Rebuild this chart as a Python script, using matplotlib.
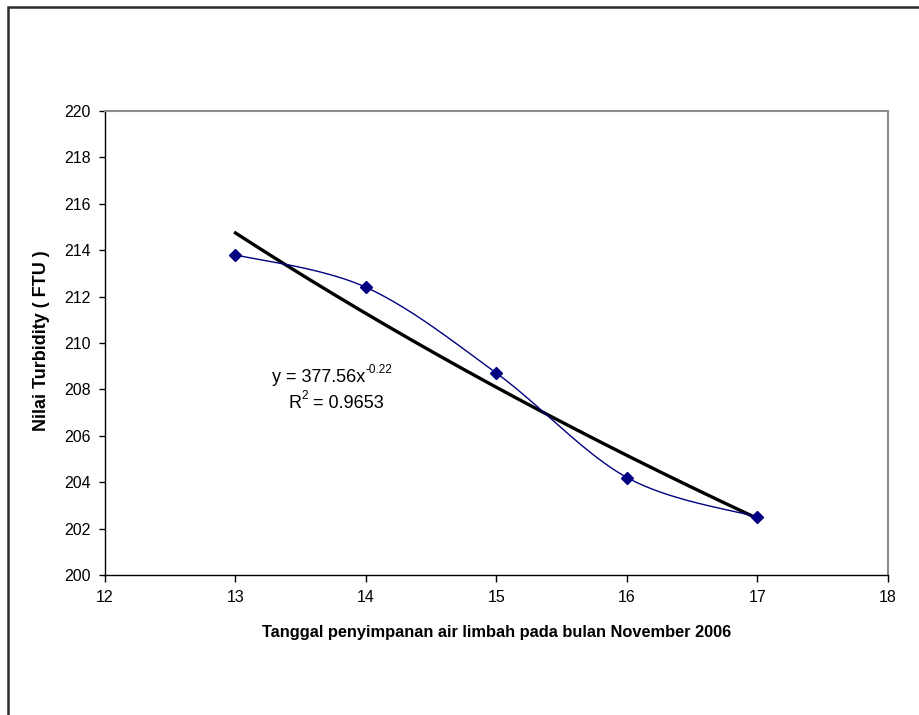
import numpy as np
import matplotlib
matplotlib.use("Agg")
import matplotlib.pyplot as plt
from matplotlib.patches import Rectangle

plt.rcParams['font.family'] = ['Liberation Sans', 'DejaVu Sans']

# data
days = [13, 14, 15, 16, 17]
turbidity = [213.8, 212.4, 208.7, 204.2, 202.5]
trend_a = 377.56
trend_b = -0.22
x_ticks = [12, 13, 14, 15, 16, 17, 18]
y_ticks = [200, 202, 204, 206, 208, 210, 212, 214, 216, 218, 220]
x_label = "Tanggal penyimpanan air limbah pada bulan November 2006"
y_label = "Nilai Turbidity ( FTU )"


def catmull_rom(xs, ys, n=40):
    P = np.column_stack([xs, ys]).astype(float)
    P = np.vstack([P[0], P, P[-1]])
    out = []
    for i in range(1, len(P) - 2):
        p0, p1, p2, p3 = P[i - 1], P[i], P[i + 1], P[i + 2]
        c1 = p1 + (p2 - p0) / 6.0
        c2 = p2 - (p3 - p1) / 6.0
        t = np.linspace(0, 1, n)[:, None]
        seg = ((1 - t) ** 3) * p1 + 3 * ((1 - t) ** 2) * t * c1 + 3 * (1 - t) * t ** 2 * c2 + t ** 3 * p2
        out.append(seg if i == 1 else seg[1:])
    out = np.vstack(out)
    return out[:, 0], out[:, 1]


fig = plt.figure(figsize=(9.2, 7.15), dpi=100)
W, H = 920, 715
ax = fig.add_axes([105 / W, 1 - 575 / H, (888 - 105) / W, (575 - 111) / H])

# outer chart border
fig.patches.append(Rectangle((8 / W, -0.1), 1.2, 1 - 7 / H + 0.1, transform=fig.transFigure,
                             fill=False, edgecolor='#2b2b2b', linewidth=1.8, clip_on=False))

# smoothed data line
sx, sy = catmull_rom(days, turbidity)
ax.plot(sx, sy, color='#000080', linewidth=1.0, zorder=3)
ax.plot(days, turbidity, linestyle='none', marker='D', markersize=6.5,
        color='#000080', zorder=4)

# power trend line
tx = np.linspace(days[0], days[-1], 200)
ty = trend_a * tx ** trend_b
ax.plot(tx, ty, color='black', linewidth=2.4, zorder=2)

# trend-line equation, laid out piece by piece (pixels measured from top-left)
renderer = fig.canvas.get_renderer()


def run(x, y_top, parts):
    """parts: list of (text, fontsize, raise_px)"""
    for s, fs, rise in parts:
        t = fig.text(x / W, 1 - (y_top - rise) / H, s, fontsize=fs,
                     ha='left', va='baseline')
        bb = t.get_window_extent(renderer)
        x = bb.x1 + 0.5


run(272, 382, [("y = 377.56x", 13, 0), ("-0.22", 8.5, 9)])
run(288, 408, [("R", 13, 0), ("2", 8.5, 9), (" = 0.9653", 13, 0)])

ax.set_xlim(12, 18)
ax.set_ylim(200, 220)
ax.set_xticks(x_ticks)
ax.set_yticks(y_ticks)
ax.tick_params(axis='both', labelsize=11.5, direction='out', length=4, width=1, pad=6)
ax.tick_params(axis='x', length=5)

for s in ['left', 'bottom']:
    ax.spines[s].set_color('black')
    ax.spines[s].set_linewidth(1.0)
for s in ['top', 'right']:
    ax.spines[s].set_color('#8c8c8c')
    ax.spines[s].set_linewidth(1.5)

ax.set_xlabel(x_label, fontsize=11.8, fontweight='bold', labelpad=14)
ax.set_ylabel(y_label, fontsize=13, fontweight='bold')
ax.yaxis.set_label_coords(50 / W, 1 - 341 / H, transform=fig.transFigure)

fig.savefig("out.png", dpi=100)
